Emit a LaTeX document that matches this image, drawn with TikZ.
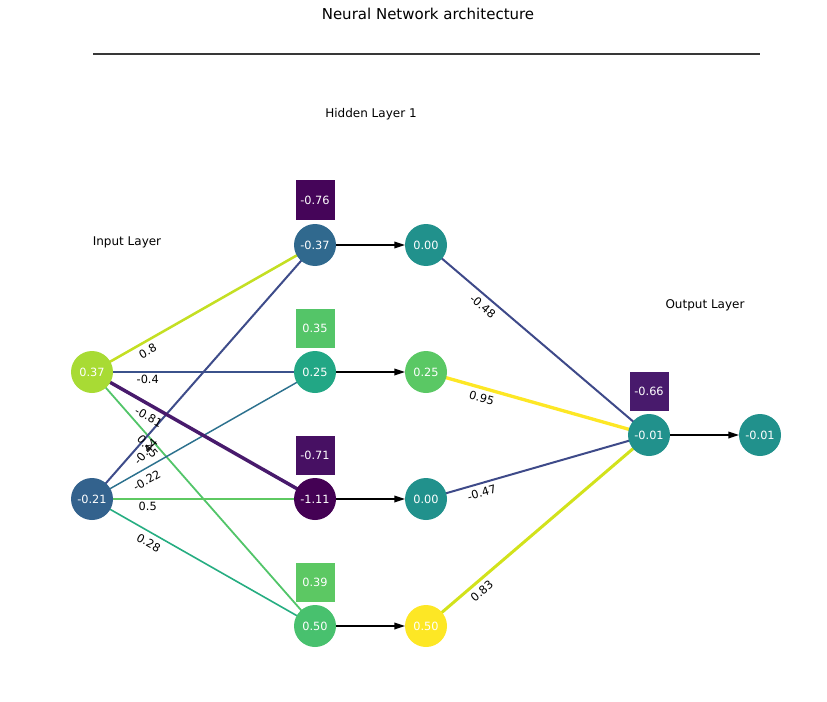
\documentclass[tikz,border=0pt]{standalone}
\usepackage{fontspec}
\setmainfont{DejaVu Sans}
\usetikzlibrary{arrows.meta,calc,backgrounds}
\definecolor{nI1}{HTML}{A8DB34}
\definecolor{nI2}{HTML}{33628D}
\definecolor{nH1}{HTML}{30698E}
\definecolor{nH2}{HTML}{22A785}
\definecolor{nH3}{HTML}{440154}
\definecolor{nH4}{HTML}{48C16E}
\definecolor{teal}{HTML}{21918C}
\definecolor{nP2}{HTML}{5AC864}
\definecolor{yel}{HTML}{FDE725}
\definecolor{bA}{HTML}{450559}
\definecolor{bB}{HTML}{54C568}
\definecolor{bC}{HTML}{471063}
\definecolor{bD}{HTML}{5CC863}
\definecolor{bE}{HTML}{481A6C}
\definecolor{eA}{HTML}{C4DF23}
\definecolor{eB}{HTML}{3B528B}
\definecolor{eC}{HTML}{481A6C}
\definecolor{eD}{HTML}{52C569}
\definecolor{eE}{HTML}{3E4C8A}
\definecolor{eF}{HTML}{2C718E}
\definecolor{eG}{HTML}{5EC962}
\definecolor{eH}{HTML}{26AD81}
\definecolor{eI}{HTML}{3E4989}
\definecolor{eJ}{HTML}{FDE725}
\definecolor{eK}{HTML}{3E4A89}
\definecolor{eL}{HTML}{D2E21B}
\begin{document}
\begin{tikzpicture}[x=0.75pt,y=0.75pt,
  neuron/.style={circle,minimum size=31.5pt,inner sep=0pt,outer sep=0pt,text=white,font=\fontsize{8.5}{10}\selectfont},
  biasbox/.style={rectangle,minimum size=29.25pt,inner sep=0pt,text=white,font=\fontsize{8.5}{10}\selectfont},
  lbl/.style={inner sep=0pt,text=black,font=\fontsize{8.5}{10}\selectfont},
  layertxt/.style={inner sep=0pt,font=\fontsize{9}{11}\selectfont},
  ttl/.style={inner sep=0pt,font=\fontsize{11.25}{13}\selectfont},
  arr/.style={-{Triangle[length=8pt,width=5pt]},line width=1.1pt,black},
  wline/.style={line width=#1}]
\useasboundingbox (0,0) rectangle (827,701);
% title and rule
\node[ttl] (title) at (428,687) {Neural Network architecture};
\draw[line width=1.5pt,black!78] (93,647) -- (760,647);
% layer captions
\node[layertxt] (capin) at (127,459) {Input Layer};
\node[layertxt] (caphid) at (371,587) {Hidden Layer 1};
\node[layertxt] (capout) at (705,396) {Output Layer};
% neurons
\node[neuron,fill=nI1] (I1) at (92,329) {0.37};
\node[neuron,fill=nI2] (I2) at (92,202) {-0.21};
\node[neuron,fill=nH1] (H1a) at (315,456) {-0.37};
\node[neuron,fill=nH2] (H2a) at (315,329) {0.25};
\node[neuron,fill=nH3] (H3a) at (315,202) {-1.11};
\node[neuron,fill=nH4] (H4a) at (315,75) {0.50};
\node[neuron,fill=teal] (H1b) at (426,456) {0.00};
\node[neuron,fill=nP2] (H2b) at (426,329) {0.25};
\node[neuron,fill=teal] (H3b) at (426,202) {0.00};
\node[neuron,fill=yel] (H4b) at (426,75) {0.50};
\node[neuron,fill=teal] (Oa) at (649,266) {-0.01};
\node[neuron,fill=teal] (Ob) at (760,266) {-0.01};
% biases
\node[biasbox,fill=bA] (B1) at (315,501) {-0.76};
\node[biasbox,fill=bB] (B2) at (315,373) {0.35};
\node[biasbox,fill=bC] (B3) at (315,246) {-0.71};
\node[biasbox,fill=bD] (B4) at (315,119) {0.39};
\node[biasbox,fill=bE] (BO) at (649,310) {-0.66};
% weighted connections
\begin{scope}[on background layer]
\draw[wline=1.9pt,eA] (I1.center) -- (H1a.center);
\draw[wline=1.5pt,eB] (I1.center) -- (H2a.center);
\draw[wline=1.35pt,eD] (I1.center) -- (H4a.center);
\draw[wline=1.5pt,eE] (I2.center) -- (H1a.center);
\draw[wline=1.1pt,eF] (I2.center) -- (H2a.center);
\draw[wline=1.5pt,eG] (I2.center) -- (H3a.center);
\draw[wline=1.2pt,eH] (I2.center) -- (H4a.center);
\draw[wline=2.6pt,eC] (I1.center) -- (H3a.center);
\draw[wline=1.5pt,eI] (H1b.center) -- (Oa.center);
\draw[wline=2.5pt,eJ] (H2b.center) -- (Oa.center);
\draw[wline=1.5pt,eK] (H3b.center) -- (Oa.center);
\draw[wline=2.25pt,eL] (H4b.center) -- (Oa.center);
\end{scope}
% activations
\draw[arr] (H1a) -- (H1b);
\draw[arr] (H2a) -- (H2b);
\draw[arr] (H3a) -- (H3b);
\draw[arr] (H4a) -- (H4b);
\draw[arr] (Oa) -- (Ob);
% weight labels
\node[lbl,rotate=29.66] (w1) at ($(I1)!0.25!(H1a)+(0,-11)$) {0.8};
\node[lbl] (w2) at ($(I1)!0.25!(H2a)+(0,-7)$) {-0.4};
\node[lbl,rotate=-29.66] (w3) at ($(I1)!0.25!(H3a)+(1,-13)$) {-0.81};
\node[lbl,rotate=-48.7] (w4) at ($(I1)!0.25!(H4a)+(0,-11)$) {0.45};
\node[lbl,rotate=48.7] (w5) at ($(I2)!0.25!(H1a)+(-2,-16)$) {-0.44};
\node[lbl,rotate=29.66] (w6) at ($(I2)!0.25!(H2a)+(-1,-13)$) {-0.22};
\node[lbl] (w7) at ($(I2)!0.25!(H3a)+(0,-7)$) {0.5};
\node[lbl,rotate=-29.66] (w8) at ($(I2)!0.25!(H4a)+(1,-12)$) {0.28};
\node[lbl,rotate=-40.4] (w9) at ($(H1b)!0.25!(Oa)+(1,-14)$) {-0.48};
\node[lbl,rotate=-15.8] (w10) at ($(H2b)!0.25!(Oa)+(0,-10)$) {0.95};
\node[lbl,rotate=16.0] (w11) at ($(H3b)!0.25!(Oa)+(0,-10)$) {-0.47};
\node[lbl,rotate=40.6] (w12) at ($(H4b)!0.25!(Oa)+(0,-13)$) {0.83};
\end{tikzpicture}
\end{document}
